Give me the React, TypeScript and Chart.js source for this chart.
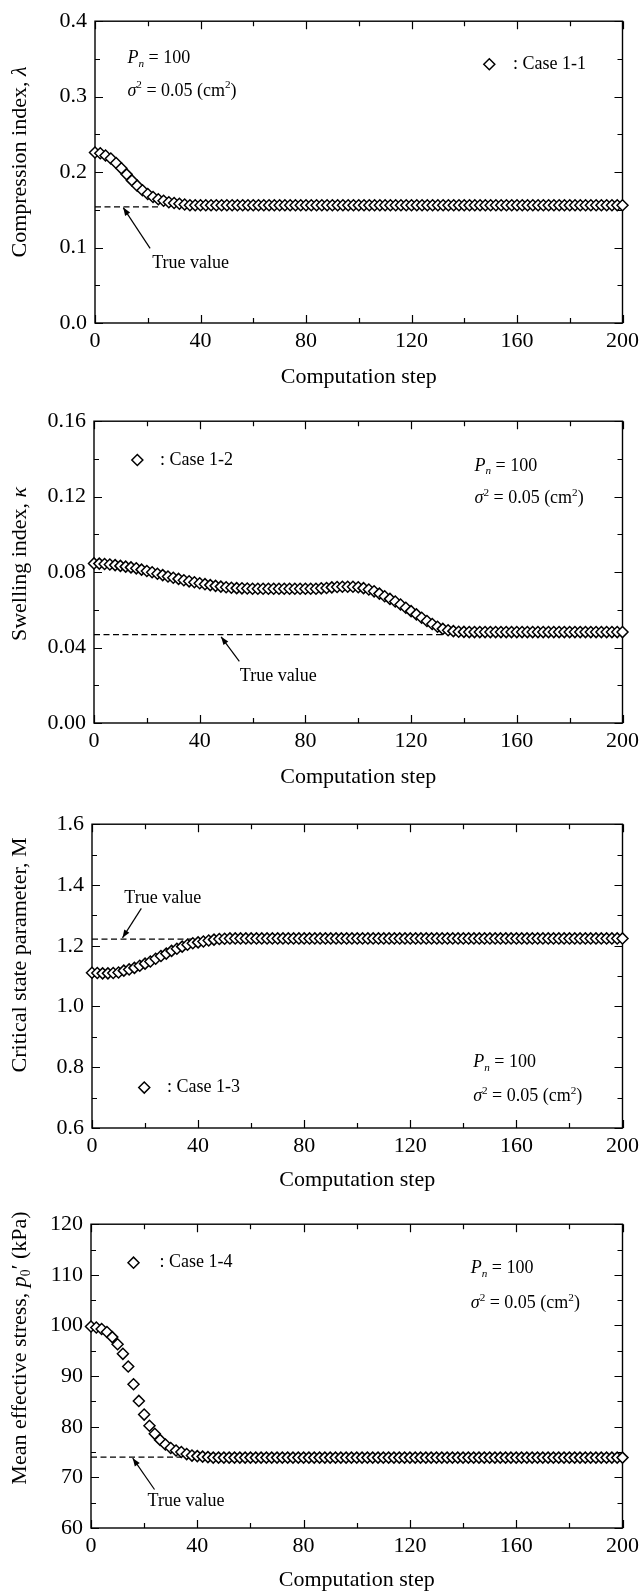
import React, { useEffect, useRef } from "react";
import { Chart, registerables } from "chart.js";

Chart.register(...registerables);

const FONT = '"Liberation Serif", "Times New Roman", serif';

// ---------------- data ----------------
const STEPS = [
  0, 2, 4, 6, 8, 10, 12, 14, 16, 18,
  20, 22, 24, 26, 28, 30, 32, 34, 36, 38,
  40, 42, 44, 46, 48, 50, 52, 54, 56, 58,
  60, 62, 64, 66, 68, 70, 72, 74, 76, 78,
  80, 82, 84, 86, 88, 90, 92, 94, 96, 98,
  100, 102, 104, 106, 108, 110, 112, 114, 116, 118,
  120, 122, 124, 126, 128, 130, 132, 134, 136, 138,
  140, 142, 144, 146, 148, 150, 152, 154, 156, 158,
  160, 162, 164, 166, 168, 170, 172, 174, 176, 178,
  180, 182, 184, 186, 188, 190, 192, 194, 196, 198,
  200,
];

const LAMBDA = [
  0.226, 0.225, 0.222, 0.218, 0.212, 0.205, 0.197, 0.189, 0.182, 0.176,
  0.171, 0.167, 0.164, 0.162, 0.160, 0.159, 0.158, 0.157, 0.156, 0.156,
  0.156, 0.156, 0.156, 0.156, 0.156, 0.156, 0.156, 0.156, 0.156, 0.156,
  0.156, 0.156, 0.156, 0.156, 0.156, 0.156, 0.156, 0.156, 0.156, 0.156,
  0.156, 0.156, 0.156, 0.156, 0.156, 0.156, 0.156, 0.156, 0.156, 0.156,
  0.156, 0.156, 0.156, 0.156, 0.156, 0.156, 0.156, 0.156, 0.156, 0.156,
  0.156, 0.156, 0.156, 0.156, 0.156, 0.156, 0.156, 0.156, 0.156, 0.156,
  0.156, 0.156, 0.156, 0.156, 0.156, 0.156, 0.156, 0.156, 0.156, 0.156,
  0.156, 0.156, 0.156, 0.156, 0.156, 0.156, 0.156, 0.156, 0.156, 0.156,
  0.156, 0.156, 0.156, 0.156, 0.156, 0.156, 0.156, 0.156, 0.156, 0.156,
  0.156,
];

const KAPPA = [
  0.0846, 0.0845, 0.0843, 0.0840, 0.0837, 0.0833, 0.0829, 0.0825, 0.0820, 0.0813,
  0.0806, 0.0799, 0.0791, 0.0784, 0.0777, 0.0770, 0.0764, 0.0757, 0.0751, 0.0746,
  0.0741, 0.0736, 0.0731, 0.0727, 0.0723, 0.0720, 0.0717, 0.0715, 0.0714, 0.0713,
  0.0712, 0.0712, 0.0712, 0.0712, 0.0712, 0.0712, 0.0712, 0.0712, 0.0712, 0.0712,
  0.0712, 0.0712, 0.0712, 0.0714, 0.0716, 0.0719, 0.0721, 0.0722, 0.0722, 0.0722,
  0.0720, 0.0715, 0.0708, 0.0698, 0.0686, 0.0672, 0.0658, 0.0644, 0.0628, 0.0611,
  0.0593, 0.0576, 0.0558, 0.0541, 0.0525, 0.0510, 0.0499, 0.0492, 0.0487, 0.0484,
  0.0483, 0.0482, 0.0482, 0.0482, 0.0482, 0.0482, 0.0482, 0.0482, 0.0482, 0.0482,
  0.0482, 0.0482, 0.0482, 0.0482, 0.0482, 0.0482, 0.0482, 0.0482, 0.0482, 0.0482,
  0.0482, 0.0482, 0.0482, 0.0482, 0.0482, 0.0482, 0.0482, 0.0482, 0.0482, 0.0482,
  0.0482,
];

const M_VALUES = [
  1.111, 1.110, 1.109, 1.109, 1.110, 1.112, 1.118, 1.122, 1.127, 1.134,
  1.141, 1.148, 1.157, 1.166, 1.174, 1.183, 1.190, 1.197, 1.203, 1.208,
  1.211, 1.214, 1.217, 1.220, 1.222, 1.223, 1.224, 1.224, 1.224, 1.224,
  1.224, 1.224, 1.224, 1.224, 1.224, 1.224, 1.224, 1.224, 1.224, 1.224,
  1.224, 1.224, 1.224, 1.224, 1.224, 1.224, 1.224, 1.224, 1.224, 1.224,
  1.224, 1.224, 1.224, 1.224, 1.224, 1.224, 1.224, 1.224, 1.224, 1.224,
  1.224, 1.224, 1.224, 1.224, 1.224, 1.224, 1.224, 1.224, 1.224, 1.224,
  1.224, 1.224, 1.224, 1.224, 1.224, 1.224, 1.224, 1.224, 1.224, 1.224,
  1.224, 1.224, 1.224, 1.224, 1.224, 1.224, 1.224, 1.224, 1.224, 1.224,
  1.224, 1.224, 1.224, 1.224, 1.224, 1.224, 1.224, 1.224, 1.224, 1.224,
  1.224,
];

const P0 = [
  99.8, 99.6, 99.3, 98.7, 97.7, 96.3, 94.4, 91.9, 88.4, 85.1,
  82.4, 80.2, 78.6, 77.4, 76.5, 75.8, 75.3, 75.0, 74.6, 74.3,
  74.2, 74.1, 74.0, 73.9, 73.9, 73.9, 73.9, 73.9, 73.9, 73.9,
  73.9, 73.9, 73.9, 73.9, 73.9, 73.9, 73.9, 73.9, 73.9, 73.9,
  73.9, 73.9, 73.9, 73.9, 73.9, 73.9, 73.9, 73.9, 73.9, 73.9,
  73.9, 73.9, 73.9, 73.9, 73.9, 73.9, 73.9, 73.9, 73.9, 73.9,
  73.9, 73.9, 73.9, 73.9, 73.9, 73.9, 73.9, 73.9, 73.9, 73.9,
  73.9, 73.9, 73.9, 73.9, 73.9, 73.9, 73.9, 73.9, 73.9, 73.9,
  73.9, 73.9, 73.9, 73.9, 73.9, 73.9, 73.9, 73.9, 73.9, 73.9,
  73.9, 73.9, 73.9, 73.9, 73.9, 73.9, 73.9, 73.9, 73.9, 73.9,
  73.9,
];

const TRUE_VALUES = [0.154, 0.0469, 1.222, 74.0];
const TRUE_LINE_END = [24, 132, 38, 34];

const X_TICK_LABELS = ["0", "40", "80", "120", "160", "200"];
const LAMBDA_TICK_LABELS = ["0.0", "0.1", "0.2", "0.3", "0.4"];
const KAPPA_TICK_LABELS = ["0.00", "0.04", "0.08", "0.12", "0.16"];
const M_TICK_LABELS = ["0.6", "0.8", "1.0", "1.2", "1.4", "1.6"];
const P0_TICK_LABELS = ["60", "70", "80", "90", "100", "110", "120"];

const CASE_LABELS = [": Case 1-1", ": Case 1-2", ": Case 1-3", ": Case 1-4"];

// ---------------- layout / annotation config ----------------
type Run = { t: string; it?: boolean; sub?: boolean; sup?: boolean };

type PanelConf = {
  top: number;
  plotLeft: number;
  plotRight: number;
  plotH: number;
  yMin: number;
  yMax: number;
  yStep: number;
  yLabels: string[];
  values: number[];
  trueValue: number;
  trueEnd: number;
  yTitle: Run[];
  yTitleY: number;
  caseLabel: string;
  legend: { x: number; y: number; tx: number };
  params: { x: number; y1: number; y2: number };
  trueText: { x: number; y: number };
  arrow: { x1: number; y1: number; x2: number; y2: number };
};

const PANELS: PanelConf[] = [
  {
    top: 0, plotLeft: 95, plotRight: 625, plotH: 303,
    yMin: 0, yMax: 0.4, yStep: 0.05, yLabels: LAMBDA_TICK_LABELS,
    values: LAMBDA, trueValue: TRUE_VALUES[0], trueEnd: TRUE_LINE_END[0],
    yTitle: [{ t: "Compression index, " }, { t: "λ", it: true }], yTitleY: 162,
    caseLabel: CASE_LABELS[0],
    legend: { x: 149.5, y: 0.343, tx: 158.5 },
    params: { x: 12.3, y1: 0.351, y2: 0.3075 },
    trueText: { x: 21.7, y: 0.079 },
    arrow: { x1: 20.9, y1: 0.099, x2: 10.7, y2: 0.153 },
  },
  {
    top: 400, plotLeft: 94, plotRight: 624, plotH: 303,
    yMin: 0, yMax: 0.16, yStep: 0.02, yLabels: KAPPA_TICK_LABELS,
    values: KAPPA, trueValue: TRUE_VALUES[1], trueEnd: TRUE_LINE_END[1],
    yTitle: [{ t: "Swelling index, " }, { t: "κ", it: true }], yTitleY: 164,
    caseLabel: CASE_LABELS[1],
    legend: { x: 16.4, y: 0.1394, tx: 25 },
    params: { x: 144, y1: 0.1363, y2: 0.1189 },
    trueText: { x: 55.2, y: 0.0248 },
    arrow: { x1: 55, y1: 0.0327, x2: 48.1, y2: 0.0457 },
  },
  {
    top: 803, plotLeft: 92, plotRight: 626, plotH: 305,
    yMin: 0.6, yMax: 1.6, yStep: 0.1, yLabels: M_TICK_LABELS,
    values: M_VALUES, trueValue: TRUE_VALUES[2], trueEnd: TRUE_LINE_END[2],
    yTitle: [{ t: "Critical state parameter, M" }], yTitleY: 152,
    caseLabel: CASE_LABELS[2],
    legend: { x: 19.7, y: 0.733, tx: 28.3 },
    params: { x: 143.7, y1: 0.815, y2: 0.703 },
    trueText: { x: 12.2, y: 1.356 },
    arrow: { x1: 18.6, y1: 1.323, x2: 11.5, y2: 1.226 },
  },
  {
    top: 1203, plotLeft: 91, plotRight: 624, plotH: 305,
    yMin: 60, yMax: 120, yStep: 5, yLabels: P0_TICK_LABELS,
    values: P0, trueValue: TRUE_VALUES[3], trueEnd: TRUE_LINE_END[3],
    yTitle: [
      { t: "Mean effective stress, " },
      { t: "p", it: true },
      { t: "0", sub: true },
      { t: "′ (kPa)" },
    ],
    yTitleY: 145,
    caseLabel: CASE_LABELS[3],
    legend: { x: 16, y: 112.4, tx: 25.8 },
    params: { x: 142.9, y1: 111.2, y2: 104.3 },
    trueText: { x: 21.3, y: 65.2 },
    arrow: { x1: 23.9, y1: 67.6, x2: 15.7, y2: 73.8 },
  },
];

const CANVAS_H = 396;
const TICK_SIZE = 22;
const TITLE_SIZE = 22;
const ANNOT_SIZE = 18;

// ---------------- drawing helpers ----------------
function runsWidth(ctx: CanvasRenderingContext2D, runs: Run[], size: number) {
  let w = 0;
  for (const r of runs) {
    const s = r.sub || r.sup ? size * 0.62 : size;
    ctx.font = `${r.it ? "italic " : ""}${s}px ${FONT}`;
    w += ctx.measureText(r.t).width;
  }
  return w;
}

function drawRuns(ctx: CanvasRenderingContext2D, runs: Run[], x: number, y: number, size: number) {
  let cx = x;
  ctx.textAlign = "left";
  ctx.textBaseline = "middle";
  for (const r of runs) {
    const s = r.sub || r.sup ? size * 0.62 : size;
    ctx.font = `${r.it ? "italic " : ""}${s}px ${FONT}`;
    const dy = r.sub ? size * 0.3 : r.sup ? -size * 0.33 : 0;
    ctx.fillText(r.t, cx, y + dy);
    cx += ctx.measureText(r.t).width;
  }
}

function diamond(ctx: CanvasRenderingContext2D, x: number, y: number, r: number) {
  ctx.beginPath();
  ctx.moveTo(x - r, y);
  ctx.lineTo(x, y - r);
  ctx.lineTo(x + r, y);
  ctx.lineTo(x, y + r);
  ctx.closePath();
  ctx.fillStyle = "#fff";
  ctx.fill();
  ctx.stroke();
}

function makeOverlay(p: PanelConf, idx: number) {
  return {
    id: "overlay" + idx,
    beforeDatasetsDraw(chart: any) {
      const { ctx, chartArea: a, scales } = chart;
      const xs = scales.x;
      const ys = scales.y;
      ctx.save();
      ctx.strokeStyle = "#000";
      ctx.lineWidth = 1.4;
      ctx.strokeRect(a.left, a.top, a.right - a.left, a.bottom - a.top);
      ctx.lineWidth = 1.2;
      ctx.beginPath();
      xs.ticks.forEach((t: any, i: number) => {
        const px = Math.round(xs.getPixelForValue(t.value)) + 0.5;
        const len = i % 2 === 0 ? 8 : 5;
        ctx.moveTo(px, a.bottom);
        ctx.lineTo(px, a.bottom - len);
        ctx.moveTo(px, a.top);
        ctx.lineTo(px, a.top + len);
      });
      ys.ticks.forEach((t: any, i: number) => {
        const py = Math.round(ys.getPixelForValue(t.value)) + 0.5;
        const len = i % 2 === 0 ? 8 : 5;
        ctx.moveTo(a.left, py);
        ctx.lineTo(a.left + len, py);
        ctx.moveTo(a.right, py);
        ctx.lineTo(a.right - len, py);
      });
      ctx.stroke();
      ctx.restore();
    },
    afterDatasetsDraw(chart: any) {
      const { ctx, scales } = chart;
      const xs = scales.x;
      const ys = scales.y;
      const X = (v: number) => xs.getPixelForValue(v);
      const Y = (v: number) => ys.getPixelForValue(v);
      ctx.save();
      ctx.fillStyle = "#000";
      ctx.strokeStyle = "#000";

      // legend
      ctx.lineWidth = 1.5;
      diamond(ctx, X(p.legend.x), Y(p.legend.y), 5.5);
      ctx.fillStyle = "#000";
      drawRuns(ctx, [{ t: p.caseLabel }], X(p.legend.tx), Y(p.legend.y), ANNOT_SIZE);

      // parameters
      drawRuns(ctx, [{ t: "P", it: true }, { t: "n", it: true, sub: true }, { t: " = 100" }],
        X(p.params.x), Y(p.params.y1), ANNOT_SIZE);
      drawRuns(ctx, [
        { t: "σ", it: true }, { t: "2", sup: true }, { t: " = 0.05 (cm" }, { t: "2", sup: true }, { t: ")" },
      ], X(p.params.x), Y(p.params.y2), ANNOT_SIZE);

      // true value label + arrow
      drawRuns(ctx, [{ t: "True value" }], X(p.trueText.x), Y(p.trueText.y), ANNOT_SIZE);
      const x1 = X(p.arrow.x1), y1 = Y(p.arrow.y1), x2 = X(p.arrow.x2), y2 = Y(p.arrow.y2);
      ctx.lineWidth = 1.2;
      ctx.beginPath();
      ctx.moveTo(x1, y1);
      ctx.lineTo(x2, y2);
      ctx.stroke();
      const ang = Math.atan2(y2 - y1, x2 - x1);
      const L = 8, W = 3;
      ctx.beginPath();
      ctx.moveTo(x2, y2);
      ctx.lineTo(x2 - L * Math.cos(ang) + W * Math.sin(ang), y2 - L * Math.sin(ang) - W * Math.cos(ang));
      ctx.lineTo(x2 - L * Math.cos(ang) - W * Math.sin(ang), y2 - L * Math.sin(ang) + W * Math.cos(ang));
      ctx.closePath();
      ctx.fill();
      ctx.restore();
    },
    afterDraw(chart: any) {
      const { ctx } = chart;
      ctx.save();
      ctx.fillStyle = "#000";
      const w = runsWidth(ctx, p.yTitle, TITLE_SIZE);
      ctx.translate(20, p.yTitleY);
      ctx.rotate(-Math.PI / 2);
      drawRuns(ctx, p.yTitle, -w / 2, 0, TITLE_SIZE);
      ctx.restore();
    },
  };
}

function PanelChart({ p, idx }: { p: PanelConf; idx: number }) {
  const ref = useRef<HTMLCanvasElement>(null);
  useEffect(() => {
    const canvas = ref.current;
    if (!canvas) return;
    const xH = CANVAS_H - 20 - p.plotH;
    const chart = new Chart(canvas, {
      type: "scatter",
      data: {
        datasets: [
          {
            label: p.caseLabel,
            data: STEPS.map((s, i) => ({ x: s, y: p.values[i] })),
            pointStyle: "rectRot",
            pointRadius: 5.5,
            pointBorderWidth: 1.5,
            pointBorderColor: "#000",
            pointBackgroundColor: "#fff",
            showLine: false,
            clip: false,
            order: 1,
          } as any,
          {
            label: "True value",
            type: "line",
            data: [
              { x: 0, y: p.trueValue },
              { x: p.trueEnd, y: p.trueValue },
            ],
            borderColor: "#000",
            borderWidth: 1.2,
            borderDash: [6, 3.5],
            pointRadius: 0,
            showLine: true,
            fill: false,
            order: 2,
          } as any,
        ],
      },
      options: {
        responsive: false,
        animation: false,
        devicePixelRatio: 1,
        events: [],
        layout: { padding: { top: 20, right: 644 - p.plotRight, left: 0, bottom: 0 } },
        plugins: { legend: { display: false }, tooltip: { enabled: false } },
        scales: {
          x: {
            type: "linear",
            min: 0,
            max: 200,
            afterFit: (s: any) => { s.height = xH; },
            grid: { display: false, drawTicks: false },
            border: { display: false },
            ticks: {
              stepSize: 20,
              autoSkip: false,
              maxRotation: 0,
              padding: 5,
              color: "#000",
              font: { family: FONT, size: TICK_SIZE },
              callback: (_v: any, i: number) => (i % 2 === 0 ? X_TICK_LABELS[i / 2] : ""),
            },
            title: {
              display: true,
              text: "Computation step",
              color: "#000",
              font: { family: FONT, size: TITLE_SIZE, lineHeight: 1.2 },
              padding: { top: 0, bottom: 6 },
            },
          },
          y: {
            type: "linear",
            min: p.yMin,
            max: p.yMax,
            afterFit: (s: any) => { s.width = p.plotLeft; },
            grid: { display: false, drawTicks: false },
            border: { display: false },
            ticks: {
              stepSize: p.yStep,
              autoSkip: false,
              padding: 8,
              color: "#000",
              font: { family: FONT, size: TICK_SIZE },
              callback: (_v: any, i: number) => (i % 2 === 0 ? p.yLabels[i / 2] : ""),
            },
          },
        },
      } as any,
      plugins: [makeOverlay(p, idx)],
    });
    return () => chart.destroy();
  }, [p, idx]);
  return (
    <canvas
      ref={ref}
      width={644}
      height={CANVAS_H}
      style={{ position: "absolute", left: 0, top: p.top, width: 644, height: CANVAS_H }}
    />
  );
}

export default function App() {
  return (
    <div
      style={{
        position: "absolute",
        left: 0,
        top: 0,
        width: 644,
        height: 1595,
        overflow: "hidden",
        background: "#fff",
      }}
    >
      {PANELS.map((p, i) => (
        <PanelChart key={i} p={p} idx={i} />
      ))}
    </div>
  );
}
